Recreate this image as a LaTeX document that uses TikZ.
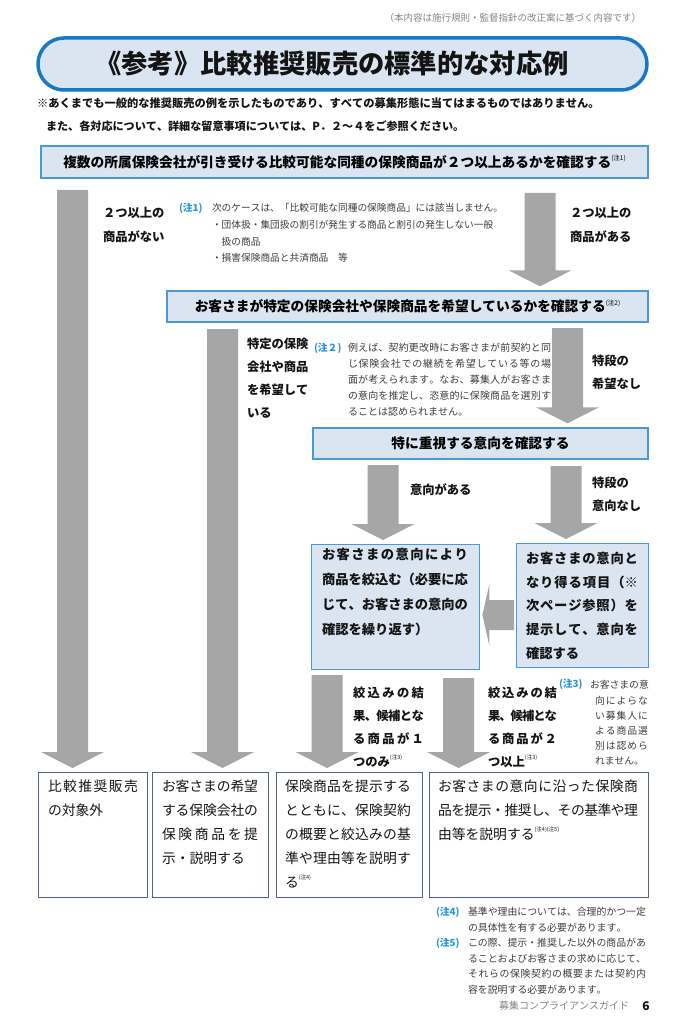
\documentclass[tikz,border=0pt]{standalone}
\usepackage{fontspec}
\setmainfont{Noto Sans CJK JP}
\usetikzlibrary{calc}
\XeTeXinterchartokenstate=1
\newcount\cjkc
\def\setcjkrange#1#2{\cjkc=#1\relax\loop\XeTeXcharclass\cjkc=1\relax\advance\cjkc by 1\relax\ifnum\cjkc<#2\relax\repeat}
\setcjkrange{"3000}{"3100}
\setcjkrange{"4E00}{"A000}
\setcjkrange{"FF00}{"FFF0}
\XeTeXinterchartoks 1 1 = {\hskip 0pt plus 0.5em minus 0.08em\relax}
\newcommand\jl[2]{\makebox[#1][s]{#2}}
\newcommand\sups[1]{\raisebox{0.55em}{\fontsize{5.5}{6}\selectfont\mdseries #1}}
\newcommand\supb[1]{\raisebox{0.5em}{\fontsize{6.5}{7}\selectfont\mdseries #1}}
\definecolor{boxfill}{RGB}{219,229,241}
\definecolor{boxline}{RGB}{74,152,214}
\definecolor{titleline}{RGB}{22,120,200}
\definecolor{botline}{RGB}{80,100,130}
\definecolor{arrowgray}{RGB}{166,166,166}
\definecolor{noteblue}{RGB}{40,150,215}
\definecolor{notetext}{RGB}{60,60,60}
\definecolor{lightgray}{RGB}{130,130,130}
\tikzset{
  bluebox/.style={draw=boxline, fill=boxfill, line width=1.4pt, inner sep=0pt, text=black,
    font=\bfseries\fontsize{13.7}{16}\selectfont},
  whitebox/.style={draw=botline, line width=1.2pt, inner sep=0pt},
  txt/.style={inner sep=0pt, outer sep=0pt, text=black!92},
  lbl/.style={txt, align=left, anchor=north west, font=\bfseries\fontsize{12.3}{23.2}\selectfont},
  notet/.style={txt, align=left, anchor=north west, text=notetext},
  notemark/.style={txt, anchor=west, text=noteblue, font=\bfseries\fontsize{9.8}{12}\selectfont},
  bottxt/.style={txt, align=left, anchor=north west, font=\fontsize{13.8}{24}\selectfont},
  midtxt/.style={txt, align=left, anchor=north west},
  varrow/.style={fill=arrowgray, draw=none, to path={
    let \p1=(\tikztostart), \p2=(\tikztotarget) in
    (\x1-15.5pt,\y1) -- (\x1+15.5pt,\y1) -- (\x1+15.5pt,\y2+20pt) -- (\x1+31.5pt,\y2+20pt)
    -- (\x1,\y2+4pt) -- (\x1-31.5pt,\y2+20pt) -- (\x1-15.5pt,\y2+20pt) -- cycle}},
  harrow/.style={fill=arrowgray, draw=none, to path={
    let \p1=(\tikztostart), \p2=(\tikztotarget) in
    (\x1,\y1-15pt) -- (\x1,\y1+15pt) -- (\x2+9pt,\y1+15pt) -- (\x2+9pt,\y1+31pt)
    -- (\x2+2pt,\y1) -- (\x2+9pt,\y1-31pt) -- (\x2+9pt,\y1-15pt) -- cycle}},
}
\begin{document}
\begin{tikzpicture}[x=1pt,y=-1pt]
\useasboundingbox (0,0) rectangle (673,1024);

% header
\node[txt, anchor=east, text=lightgray, font=\fontsize{9.5}{11}\selectfont] (topnote) at (641,18)
  {（本内容は施行規則・監督指針の改正案に基づく内容です）};
\node[draw=titleline, fill=boxfill, line width=3.5pt, rounded corners=26pt,
  minimum width=609pt, minimum height=52pt, inner sep=0pt] (T) at (342.5,64) {};
\node[txt, font=\bfseries\fontsize{26.3}{30}\selectfont] (Tt) at (332,64) {《参考》比較推奨販売の標準的な対応例};
\node[txt, anchor=west, font=\bfseries\fontsize{11.25}{13}\selectfont] (h1) at (37,103)
  {※あくまでも一般的な推奨販売の例を示したものであり、すべての募集形態に当てはまるものではありません。};
\node[txt, anchor=west, font=\bfseries\fontsize{11.1}{13}\selectfont] (h2) at (46,126)
  {また、各対応について、詳細な留意事項については、P．２～４をご参照ください。};

% decision boxes
\node[bluebox, minimum width=607pt, minimum height=32pt] (B1) at (344.5,162)
  {複数の所属保険会社が引き受ける比較可能な同種の保険商品が２つ以上あるかを確認する\supb{(注1)}};
\node[bluebox, minimum width=481pt, minimum height=31pt] (B2) at (407.5,306.5)
  {お客さまが特定の保険会社や保険商品を希望しているかを確認する\supb{(注2)}};
\node[bluebox, minimum width=335pt, minimum height=31pt] (B3) at (480.5,443.5)
  {特に重視する意向を確認する};
\node[bluebox, minimum width=168pt, minimum height=125pt, anchor=north west] (B4) at (311,544) {};
\node[bluebox, minimum width=132pt, minimum height=124pt, anchor=north west] (B5) at (516,543) {};
\node[midtxt, font=\bfseries\fontsize{13.3}{25}\selectfont] (B4t) at (322,548)
  {\jl{146pt}{お客さまの意向により}\\\jl{146pt}{商品を絞込む（必要に応}\\\jl{146pt}{じて、お客さまの意向の}\\確認を繰り返す）};
\node[midtxt, font=\bfseries\fontsize{13.3}{23.8}\selectfont] (B5t) at (526,552)
  {\jl{112pt}{お客さまの意向と}\\\jl{112pt}{なり得る項目（※}\\\jl{112pt}{次ページ参照）を}\\\jl{112pt}{提示して、意向を}\\確認する};

% result boxes
\node[whitebox, minimum width=109pt, minimum height=125pt, anchor=north west] (A) at (38,772) {};
\node[whitebox, minimum width=116pt, minimum height=125pt, anchor=north west] (B) at (152,772) {};
\node[whitebox, minimum width=146pt, minimum height=125pt, anchor=north west] (C) at (276,772) {};
\node[whitebox, minimum width=219pt, minimum height=125pt, anchor=north west] (D) at (429,772) {};
\node[bottxt] (At) at (48,779.8) {\jl{90pt}{比較推奨販売}\\の対象外};
\node[bottxt] (Bt) at (162,779.8)
  {\jl{96pt}{お客さまの希望}\\\jl{96pt}{する保険会社の}\\\jl{96pt}{保険商品を提}\\示・説明する};
\node[bottxt] (Ct) at (285,779.8)
  {\jl{126pt}{保険商品を提示する}\\\jl{126pt}{とともに、保険契約}\\\jl{126pt}{の概要と絞込みの基}\\\jl{126pt}{準や理由等を説明す}\\る\sups{(注4)}};
\node[bottxt] (Dt) at (438,779.8)
  {\jl{200pt}{お客さまの意向に沿った保険商}\\\jl{200pt}{品を提示・推奨し、その基準や理}\\由等を説明する\sups{(注4)(注5)}};

% arrows
\coordinate (l1s) at (72.5,190);
\coordinate (r1s) at (540,193);
\coordinate (l2s) at (222.5,329);
\coordinate (r2s) at (567.5,328);
\coordinate (a3s) at (383,465);
\coordinate (b3s) at (566,466);
\coordinate (hs) at (514,615);
\coordinate (a4s) at (327,675);
\coordinate (b4s) at (458.5,678);
\path[varrow] (l1s) to (A.north);
\path[varrow] (r1s) to (B2.north);
\path[varrow] (l2s) to (B.north);
\path[varrow] (r2s) to (B3.north);
\path[varrow] (a3s) to (B4.north);
\path[varrow] (b3s) to (B5.north);
\path[harrow] (hs) to (B4.east);
\path[varrow] (a4s) to (C.north);
\path[varrow] (b4s) to (D.north);

% arrow labels
\node[lbl] (L1) at (103,207.5) {２つ以上の\\商品がない};
\node[lbl] (L2) at (570,207.5) {２つ以上の\\商品がある};
\node[lbl, font=\bfseries\fontsize{12.3}{23}\selectfont] (L3) at (247,337.5) {特定の保険\\会社や商品\\を希望して\\いる};
\node[lbl, font=\bfseries\fontsize{12.3}{23}\selectfont] (L4) at (592,354.5) {特段の\\希望なし};
\node[lbl, anchor=west] (L5) at (410,490) {意向がある};
\node[lbl, font=\bfseries\fontsize{12.3}{23}\selectfont] (L6) at (592,476.5) {特段の\\意向なし};
\node[lbl, font=\bfseries\fontsize{12.3}{23}\selectfont] (L7) at (353,686.5)
  {\jl{71pt}{絞込みの結}\\\jl{71pt}{果、候補とな}\\\jl{71pt}{る商品が１}\\つのみ\sups{(注3)}};
\node[lbl, font=\bfseries\fontsize{12.3}{23}\selectfont] (L8) at (488,686.5)
  {\jl{69pt}{絞込みの結}\\\jl{69pt}{果、候補とな}\\\jl{69pt}{る商品が２}\\つ以上\sups{(注3)}};

% notes
\node[notemark] (N1) at (179,208) {(注1)};
\node[notet, font=\fontsize{9.7}{16.7}\selectfont] (N1t) at (212,203.6)
  {次のケースは、「比較可能な同種の保険商品」には該当しません。\\・団体扱・集団扱の割引が発生する商品と割引の発生しない一般\\\hspace*{9.7pt}扱の商品\\・損害保険商品と共済商品　等};
\node[notemark] (N2) at (314,348) {(注２)};
\node[notet, font=\fontsize{10}{15.8}\selectfont] (N2t) at (348,343.5)
  {\jl{203pt}{例えば、契約更改時にお客さまが前契約と同}\\\jl{203pt}{じ保険会社での継続を希望している等の場}\\\jl{203pt}{面が考えられます。なお、募集人がお客さま}\\\jl{203pt}{の意向を推定し、恣意的に保険商品を選別す}\\ることは認められません。};
\node[notemark] (N3) at (559,684) {(注3)};
\node[notet, font=\fontsize{9.8}{15.2}\selectfont] (N3t) at (590,680.6)
  {お客さまの意\\\hspace*{5pt}\jl{53pt}{向によらな}\\\hspace*{5pt}\jl{53pt}{い募集人に}\\\hspace*{5pt}\jl{53pt}{よる商品選}\\\hspace*{5pt}\jl{53pt}{別は認めら}\\\hspace*{5pt}れません。};
\node[notemark] (N4) at (436,912) {(注4)};
\node[notet, font=\fontsize{9.9}{15.5}\selectfont] (N4t) at (468,907.5)
  {\jl{178pt}{基準や理由については、合理的かつ一定}\\の具体性を有する必要があります。};
\node[notemark] (N5) at (436,943) {(注5)};
\node[notet, font=\fontsize{9.9}{15.4}\selectfont] (N5t) at (468,938.5)
  {\jl{178pt}{この際、提示・推奨した以外の商品があ}\\\jl{178pt}{ることおよびお客さまの求めに応じて、}\\\jl{178pt}{それらの保険契約の概要または契約内}\\容を説明する必要があります。};

% footer
\node[txt, anchor=east, text=lightgray, font=\fontsize{10}{12}\selectfont] (F1) at (629,1006) {募集コンプライアンスガイド};
\node[txt, font=\bfseries\fontsize{12}{14}\selectfont] (F2) at (646,1006) {6};
\end{tikzpicture}
\end{document}
